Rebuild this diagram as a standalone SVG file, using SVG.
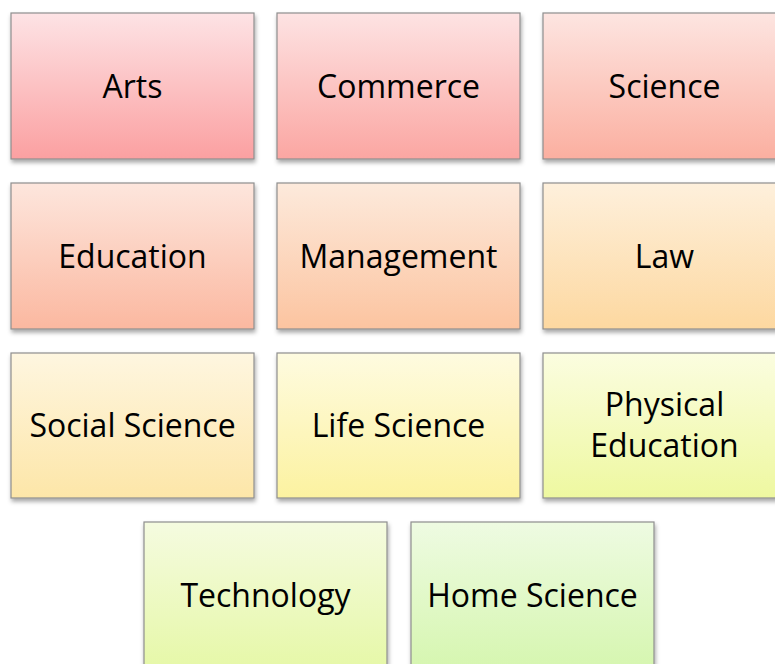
<svg xmlns="http://www.w3.org/2000/svg" width="775" height="664" viewBox="0 0 775 664">
<style>
.box{stroke:#8e8e8e;stroke-width:1.2;filter:url(#sh)}
.lbl{font-family:"Open Sans","Liberation Sans",sans-serif;font-size:32px;fill:#000;text-anchor:middle}
</style>
<defs>
<filter id="sh" x="-10%" y="-10%" width="125%" height="130%">
<feDropShadow dx="1" dy="3" stdDeviation="2" flood-color="#000" flood-opacity="0.35"/>
</filter>
<linearGradient id="g1" x1="0" y1="0" x2="0" y2="1"><stop offset="0" stop-color="#fde3e5"/><stop offset="1" stop-color="#fba0a1"/></linearGradient>
<linearGradient id="g2" x1="0" y1="0" x2="0" y2="1"><stop offset="0" stop-color="#fde3e3"/><stop offset="1" stop-color="#fba6a2"/></linearGradient>
<linearGradient id="g3" x1="0" y1="0" x2="0" y2="1"><stop offset="0" stop-color="#fde5e1"/><stop offset="1" stop-color="#fbafa0"/></linearGradient>
<linearGradient id="g4" x1="0" y1="0" x2="0" y2="1"><stop offset="0" stop-color="#fde6dd"/><stop offset="1" stop-color="#fbb8a0"/></linearGradient>
<linearGradient id="g5" x1="0" y1="0" x2="0" y2="1"><stop offset="0" stop-color="#fdeadc"/><stop offset="1" stop-color="#fcc4a0"/></linearGradient>
<linearGradient id="g6" x1="0" y1="0" x2="0" y2="1"><stop offset="0" stop-color="#fef0dc"/><stop offset="1" stop-color="#fdd8a0"/></linearGradient>
<linearGradient id="g7" x1="0" y1="0" x2="0" y2="1"><stop offset="0" stop-color="#fef6e0"/><stop offset="1" stop-color="#fde6a8"/></linearGradient>
<linearGradient id="g8" x1="0" y1="0" x2="0" y2="1"><stop offset="0" stop-color="#fefbe0"/><stop offset="1" stop-color="#fcf2a0"/></linearGradient>
<linearGradient id="g9" x1="0" y1="0" x2="0" y2="1"><stop offset="0" stop-color="#fbfde0"/><stop offset="1" stop-color="#eef8a0"/></linearGradient>
<linearGradient id="g10" x1="0" y1="0" x2="0" y2="1"><stop offset="0" stop-color="#f5fbe0"/><stop offset="1" stop-color="#e6f8a8"/></linearGradient>
<linearGradient id="g11" x1="0" y1="0" x2="0" y2="1"><stop offset="0" stop-color="#eefbe2"/><stop offset="1" stop-color="#d6f6b0"/></linearGradient>
</defs>
<rect width="775" height="664" fill="#fff"/>
<g id="connectors"/>
<g id="arts"><rect class="box" x="11" y="13" width="243" height="146" fill="url(#g1)"/><text class="lbl" x="132.5" y="98">Arts</text></g>
<g id="commerce"><rect class="box" x="277" y="13" width="243" height="146" fill="url(#g2)"/><text class="lbl" x="398.5" y="98">Commerce</text></g>
<g id="science"><rect class="box" x="543" y="13" width="243" height="146" fill="url(#g3)"/><text class="lbl" x="664.5" y="98">Science</text></g>
<g id="education"><rect class="box" x="11" y="183" width="243" height="146" fill="url(#g4)"/><text class="lbl" x="132.5" y="268">Education</text></g>
<g id="management"><rect class="box" x="277" y="183" width="243" height="146" fill="url(#g5)"/><text class="lbl" x="398.5" y="268">Management</text></g>
<g id="law"><rect class="box" x="543" y="183" width="243" height="146" fill="url(#g6)"/><text class="lbl" x="664.5" y="268">Law</text></g>
<g id="social-science"><rect class="box" x="11" y="353" width="243" height="145" fill="url(#g7)"/><text class="lbl" x="132.5" y="437">Social Science</text></g>
<g id="life-science"><rect class="box" x="277" y="353" width="243" height="145" fill="url(#g8)"/><text class="lbl" x="398.5" y="437">Life Science</text></g>
<g id="physical-education"><rect class="box" x="543" y="353" width="243" height="145" fill="url(#g9)"/><text class="lbl" x="664.5" y="416">Physical</text><text class="lbl" x="664.5" y="457">Education</text></g>
<g id="technology"><rect class="box" x="144" y="522" width="243" height="146" fill="url(#g10)"/><text class="lbl" x="265.5" y="607">Technology</text></g>
<g id="home-science"><rect class="box" x="411" y="522" width="243" height="146" fill="url(#g11)"/><text class="lbl" x="532.5" y="607">Home Science</text></g>
</svg>
